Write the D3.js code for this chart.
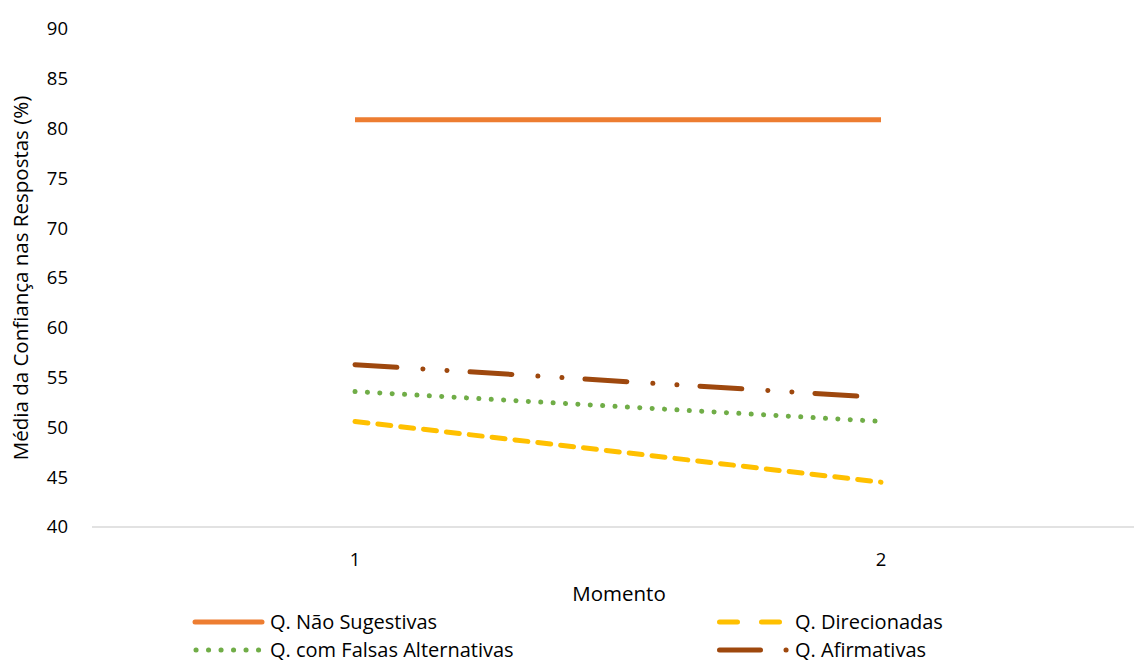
<!DOCTYPE html>
<html><head><meta charset="utf-8">
<script src="https://cdn.jsdelivr.net/npm/d3@7/dist/d3.min.js"></script>
<style>body{margin:0;background:#fff}svg{font-family:"Open Sans","Noto Sans",sans-serif}</style>
</head><body><svg id="c" width="1134" height="662"></svg>
<script>
const categories = ["1","2"];
const yTicks = [40,45,50,55,60,65,70,75,80,85,90];
const seriesNames = ["Q. Não Sugestivas","Q. Direcionadas","Q. com Falsas Alternativas","Q. Afirmativas"];
const naoSugestivas = [80.9, 80.9];
const direcionadas = [50.6, 44.5];
const falsasAlternativas = [53.6, 50.6];
const afirmativas = [56.3, 53.0];
const colors = ["#ED7D31","#FFC000","#70AD47","#9E480E"];
const dashes = [null, "13 10", "0.1 12.3", "42 26 0.1 24 0.1 23"];
const allValues = [naoSugestivas, direcionadas, falsasAlternativas, afirmativas];

const svg = d3.select("#c");
const x = d3.scalePoint().domain(categories).range([92,1144]).padding(0.5);
const y = d3.scaleLinear().domain([40,90]).range([527,29]);
const FS = 18.5, FT = 20.5;

svg.append("g").selectAll("text").data(yTicks).join("text")
  .attr("x",68).attr("y",d=>y(d)).attr("dy","0.35em").attr("text-anchor","end")
  .attr("font-size",FS).attr("fill","#000").text(d=>d);
svg.append("line").attr("x1",92).attr("x2",1146).attr("y1",y(40)).attr("y2",y(40))
  .attr("stroke","#D9D9D9").attr("stroke-width",1.5);
svg.append("g").selectAll("text").data(categories).join("text")
  .attr("x",d=>x(d)).attr("y",560).attr("dy","0.35em").attr("text-anchor","middle")
  .attr("font-size",FS).text(d=>d);
svg.append("text").attr("x",619).attr("y",594).attr("dy","0.35em").attr("text-anchor","middle")
  .attr("font-size",FT).text("Momento");
svg.append("text").attr("transform","translate(21,278) rotate(-90)").attr("dy","0.35em")
  .attr("text-anchor","middle").attr("font-size",FT).text("Média da Confiança nas Respostas (%)");

const line = d3.line().x((d,i)=>x(categories[i])).y(d=>y(d));
allValues.forEach((vals,k)=>{
  svg.append("path").datum(vals).attr("d",line).attr("fill","none")
    .attr("stroke",colors[k]).attr("stroke-width",5)
    .attr("stroke-linecap", k===0 ? "butt" : "round")
    .attr("stroke-dasharray",dashes[k]);
});

// legend
const legSw = [[195,262],[719.5,779.5],[196,259],[719.5,787]];
const legY = [622,622,650,650];
const legTx = [270,795,270,795];
const legDash = [null, "18 24", "0.1 12.4", "41 25.5 0.1 100"];
seriesNames.forEach((n,k)=>{
  const g = svg.append("g");
  g.append("line").attr("x1",legSw[k][0]).attr("x2",legSw[k][1]).attr("y1",legY[k]).attr("y2",legY[k])
    .attr("stroke",colors[k]).attr("stroke-width",5)
    .attr("stroke-linecap","round")
    .attr("stroke-dasharray",legDash[k]);
  g.append("text").attr("x",legTx[k]).attr("y",legY[k]).attr("dy","0.33em").attr("font-size",20).text(n);
});
</script></body></html>
